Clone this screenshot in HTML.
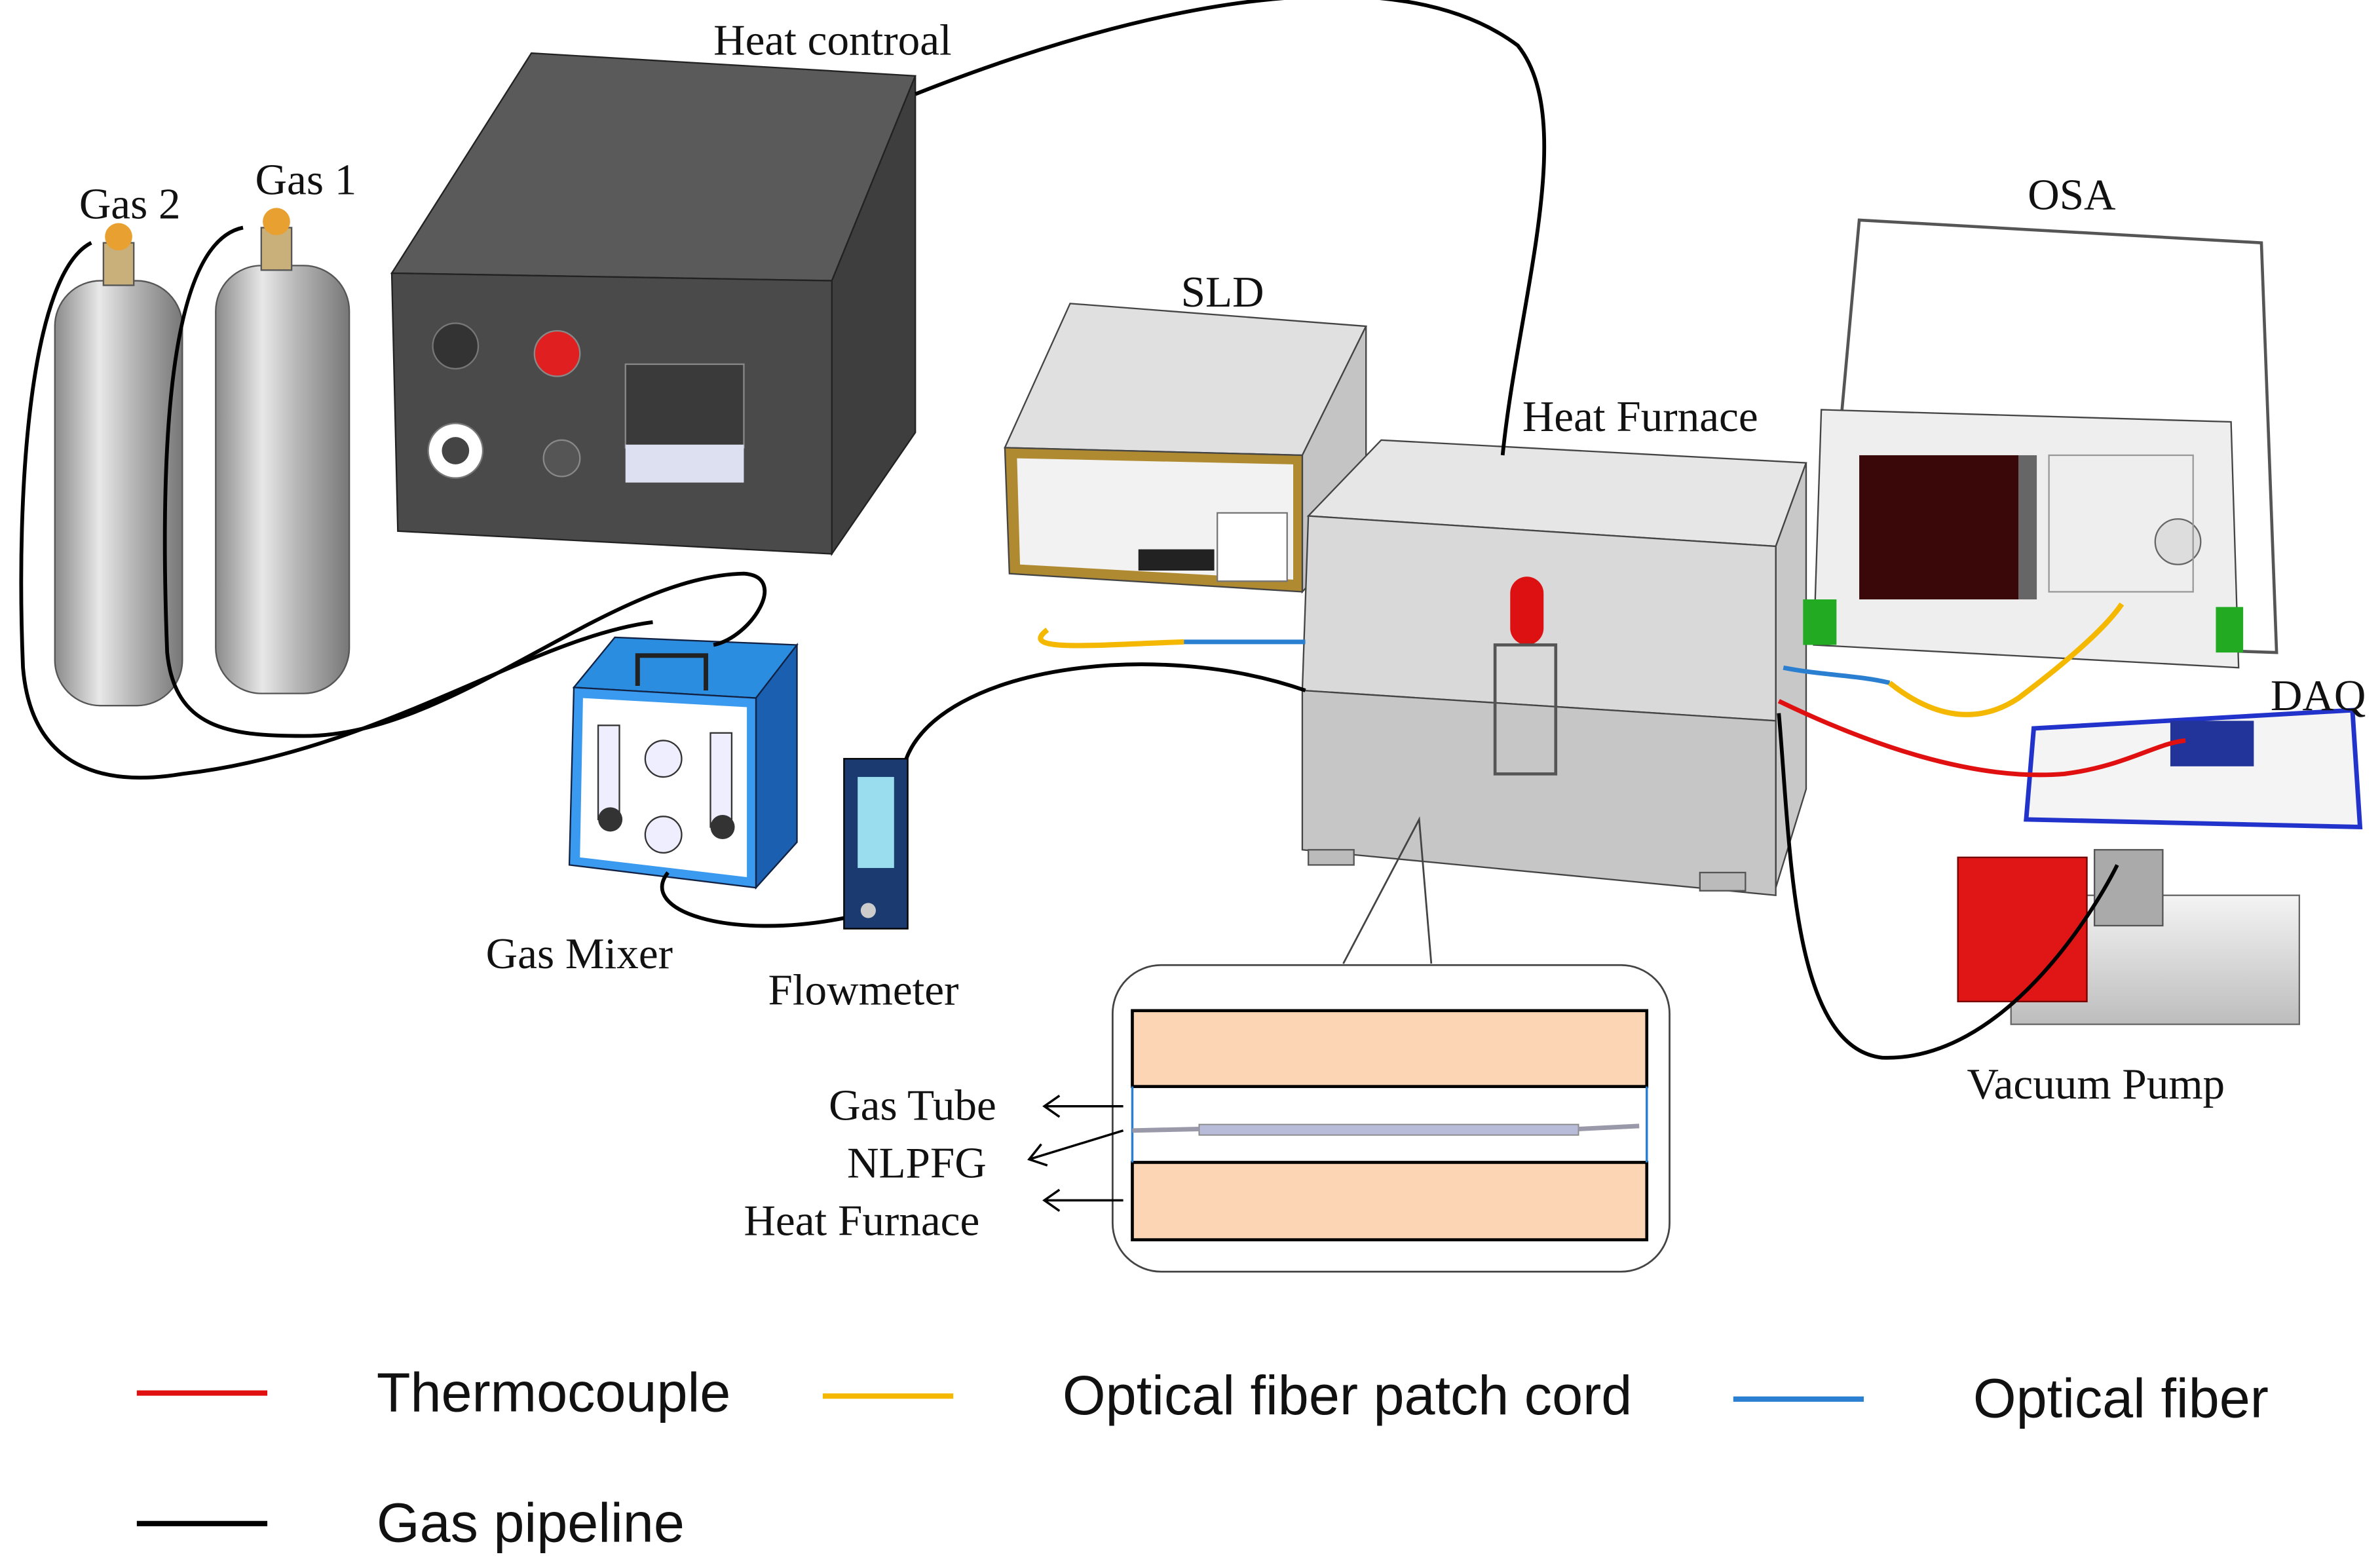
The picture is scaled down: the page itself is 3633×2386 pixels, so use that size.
<!DOCTYPE html>
<html><head><meta charset="utf-8">
<style>
html,body{margin:0;padding:0;background:#fff;}
svg{display:block;}
.lab{font-family:"Liberation Serif",serif;font-size:29px;fill:#111;}
.leg{font-family:"Liberation Sans",sans-serif;font-size:36.5px;fill:#111;}
</style></head>
<body>
<svg width="3633" height="2386" viewBox="0 0 1568 1030" xmlns="http://www.w3.org/2000/svg">
<defs>
<linearGradient id="cyl" x1="0" x2="1">
<stop offset="0" stop-color="#8a8a8a"/><stop offset="0.35" stop-color="#e8e8e8"/><stop offset="0.6" stop-color="#b8b8b8"/><stop offset="1" stop-color="#777"/>
</linearGradient>
<linearGradient id="pump" x1="0" x2="0" y1="0" y2="1">
<stop offset="0" stop-color="#f4f4f4"/><stop offset="1" stop-color="#bdbdbd"/>
</linearGradient>
</defs>
<rect width="1568" height="1030" fill="#fff"/>

<g stroke="#555" stroke-width="1">
<rect x="36" y="185" width="84" height="280" rx="30" fill="url(#cyl)"/>
<rect x="142" y="175" width="88" height="282" rx="30" fill="url(#cyl)"/>
<rect x="68" y="160" width="20" height="28" fill="#c9b07a"/>
<rect x="172" y="150" width="20" height="28" fill="#c9b07a"/>
</g>
<circle cx="78" cy="156" r="9" fill="#e8a030"/><circle cx="182" cy="146" r="9" fill="#e8a030"/>
<text class="lab" x="52" y="144">Gas 2</text>
<text class="lab" x="168" y="128">Gas 1</text>

<polygon points="258,180 350,35 603,50 548,185" fill="#5a5a5a" stroke="#222"/>
<polygon points="548,185 603,50 603,285 548,365" fill="#3e3e3e" stroke="#222"/>
<polygon points="258,180 548,185 548,365 262,350" fill="#4a4a4a" stroke="#222"/>
<circle cx="300" cy="228" r="15" fill="#333" stroke="#777"/>
<circle cx="367" cy="233" r="15" fill="#e02020" stroke="#888"/>
<circle cx="300" cy="297" r="18" fill="#fff" stroke="#777"/><circle cx="300" cy="297" r="9" fill="#444"/>
<circle cx="370" cy="302" r="12" fill="#555" stroke="#888"/>
<rect x="412" y="240" width="78" height="55" fill="#3a3a3a" stroke="#888"/>
<rect x="412" y="293" width="78" height="25" fill="#dde0f0"/>
<text class="lab" x="470" y="36">Heat controal</text>

<polygon points="662,295 705,200 900,215 858,300" fill="#e0e0e0" stroke="#444"/>
<polygon points="858,300 900,215 900,345 858,390" fill="#c4c4c4" stroke="#444"/>
<polygon points="662,295 858,300 858,390 665,378" fill="#b08a30" stroke="#444"/>
<polygon points="670,302 852,306 852,382 672,372" fill="#f2f2f2"/>
<rect x="750" y="362" width="50" height="14" fill="#222"/>
<rect x="802" y="338" width="46" height="45" fill="#fff" stroke="#777"/>
<text class="lab" x="778" y="202">SLD</text>

<polygon points="862,340 910,290 1190,305 1170,360" fill="#e6e6e6" stroke="#444"/>
<polygon points="1170,360 1190,305 1190,520 1170,585" fill="#c8c8c8" stroke="#444"/>
<polygon points="862,340 1170,360 1170,475 858,455" fill="#d9d9d9" stroke="#444"/>
<polygon points="858,455 1170,475 1170,590 858,560" fill="#c6c6c6" stroke="#444"/>
<rect x="862" y="560" width="30" height="10" fill="#bbb" stroke="#555"/>
<rect x="1120" y="575" width="30" height="12" fill="#bbb" stroke="#555"/>
<rect x="995" y="380" width="22" height="45" rx="11" fill="#d11"/>
<rect x="985" y="425" width="40" height="85" fill="none" stroke="#555" stroke-width="2"/>
<text class="lab" x="1003" y="284">Heat Furnace</text>

<polygon points="1225,145 1490,160 1500,430 1200,420" fill="none" stroke="#555" stroke-width="2"/>
<polygon points="1200,270 1470,278 1475,440 1195,425" fill="#eeeeee" stroke="#444"/>
<rect x="1225" y="300" width="105" height="95" fill="#3a0808"/>
<rect x="1330" y="300" width="12" height="95" fill="#666"/>
<circle cx="1435" cy="357" r="15" fill="#ddd" stroke="#666"/>
<rect x="1350" y="300" width="95" height="90" fill="none" stroke="#999"/>
<rect x="1188" y="395" width="22" height="30" fill="#2a2"/>
<rect x="1460" y="400" width="18" height="30" fill="#2a2"/>
<text class="lab" x="1336" y="138">OSA</text>

<polygon points="1340,480 1550,468 1555,545 1335,540" fill="#f4f4f4" stroke="#2233cc" stroke-width="3"/>
<rect x="1430" y="475" width="55" height="30" fill="#223399"/>
<text class="lab" x="1496" y="468">DAQ</text>

<rect x="1325" y="590" width="190" height="85" fill="url(#pump)" stroke="#666"/>
<rect x="1290" y="565" width="85" height="95" fill="#e01515" stroke="#700"/>
<rect x="1380" y="560" width="45" height="50" fill="#aaa" stroke="#555"/>
<text class="lab" x="1296" y="724">Vacuum Pump</text>

<polygon points="378,453 405,420 525,425 498,460" fill="#2b8de0" stroke="#124"/>
<polygon points="498,460 525,425 525,555 498,585" fill="#1a5fb0" stroke="#124"/>
<polygon points="378,453 498,460 498,585 375,570" fill="#3a9af0" stroke="#124"/>
<polygon points="384,460 492,466 492,578 382,565" fill="#fff"/>
<rect x="394" y="478" width="14" height="62" fill="#eef" stroke="#333"/>
<rect x="468" y="483" width="14" height="62" fill="#eef" stroke="#333"/>
<circle cx="437" cy="500" r="12" fill="#eef" stroke="#333"/>
<circle cx="437" cy="550" r="12" fill="#eef" stroke="#333"/>
<circle cx="402" cy="540" r="8" fill="#333"/><circle cx="476" cy="545" r="8" fill="#333"/>
<path d="M420 452 V432 H465 V455" fill="none" stroke="#222" stroke-width="3"/>
<text class="lab" x="320" y="638">Gas Mixer</text>

<rect x="556" y="500" width="42" height="112" fill="#1a3a70" stroke="#000"/>
<rect x="565" y="512" width="24" height="60" fill="#9de"/>
<circle cx="572" cy="600" r="5" fill="#ccc"/>
<text class="lab" x="506" y="662">Flowmeter</text>

<g fill="none" stroke="#000" stroke-width="2.5">
<path d="M603 62 C760 0 920 -30 1000 30 C1040 80 1000 200 990 300"/>
<path d="M60 160 C20 180 10 320 15 440 C20 500 60 520 120 510 C250 495 350 420 430 410"/>
<path d="M160 150 C110 160 105 300 110 430 C115 480 150 485 200 485 C300 485 400 380 490 378 C520 380 495 420 470 425"/>
<path d="M440 575 C420 600 480 620 556 605"/>
<path d="M597 500 C620 440 760 420 860 455"/>
<path d="M1172 470 C1180 560 1180 690 1240 697 C1320 700 1380 600 1395 570"/>
</g>
<path d="M690 415 C670 430 720 425 780 423" fill="none" stroke="#f5b800" stroke-width="3.5"/>
<path d="M780 423 H860" fill="none" stroke="#2a7fd0" stroke-width="3"/>
<path d="M1175 440 C1200 445 1225 445 1245 450" fill="none" stroke="#2a7fd0" stroke-width="3"/>
<path d="M1245 450 C1270 470 1300 480 1330 460 C1370 430 1390 410 1398 398" fill="none" stroke="#f5b800" stroke-width="3.5"/>
<path d="M1172 462 C1230 490 1300 515 1360 510 C1400 505 1420 490 1440 488" fill="none" stroke="#e01010" stroke-width="3"/>

<path d="M885 635 L935 540 L943 635" fill="none" stroke="#444" stroke-width="1.2"/>
<rect x="733" y="636" width="367" height="202" rx="32" fill="#fff" stroke="#444" stroke-width="1.2"/>
<rect x="746" y="666" width="339" height="50" fill="#fcd5b5" stroke="#000" stroke-width="2"/>
<rect x="746" y="766" width="339" height="51" fill="#fcd5b5" stroke="#000" stroke-width="2"/>
<line x1="746" y1="716" x2="746" y2="766" stroke="#2a7fd0" stroke-width="1.5"/>
<line x1="1085" y1="716" x2="1085" y2="766" stroke="#2a7fd0" stroke-width="1.5"/>
<rect x="790" y="741" width="250" height="7" fill="#b8bcd8" stroke="#888" stroke-width="0.8"/>
<line x1="746" y1="745" x2="790" y2="744" stroke="#99a" stroke-width="3"/>
<line x1="1040" y1="744" x2="1080" y2="742" stroke="#99a" stroke-width="3"/>
<text class="lab" x="546" y="738">Gas Tube</text>
<text class="lab" x="558" y="776">NLPFG</text>
<text class="lab" x="490" y="814">Heat Furnace</text>
<g fill="none" stroke="#000" stroke-width="1.5">
<path d="M740 729 H688 M698 722 L688 729 L698 736"/>
<path d="M740 745 L678 764 M686 754 L678 764 L690 768"/>
<path d="M740 791 H688 M698 784 L688 791 L698 798"/>
</g>

<line x1="90" y1="918" x2="176" y2="918" stroke="#e01010" stroke-width="3.5"/>
<text class="leg" x="248" y="930">Thermocouple</text>
<line x1="542" y1="920" x2="628" y2="920" stroke="#f5b800" stroke-width="3.5"/>
<text class="leg" x="700" y="932">Optical fiber patch cord</text>
<line x1="1142" y1="922" x2="1228" y2="922" stroke="#2a7fd0" stroke-width="3.5"/>
<text class="leg" x="1300" y="934">Optical fiber</text>
<line x1="90" y1="1004" x2="176" y2="1004" stroke="#000" stroke-width="3.5"/>
<text class="leg" x="248" y="1016">Gas pipeline</text>
</svg>
</body></html>
